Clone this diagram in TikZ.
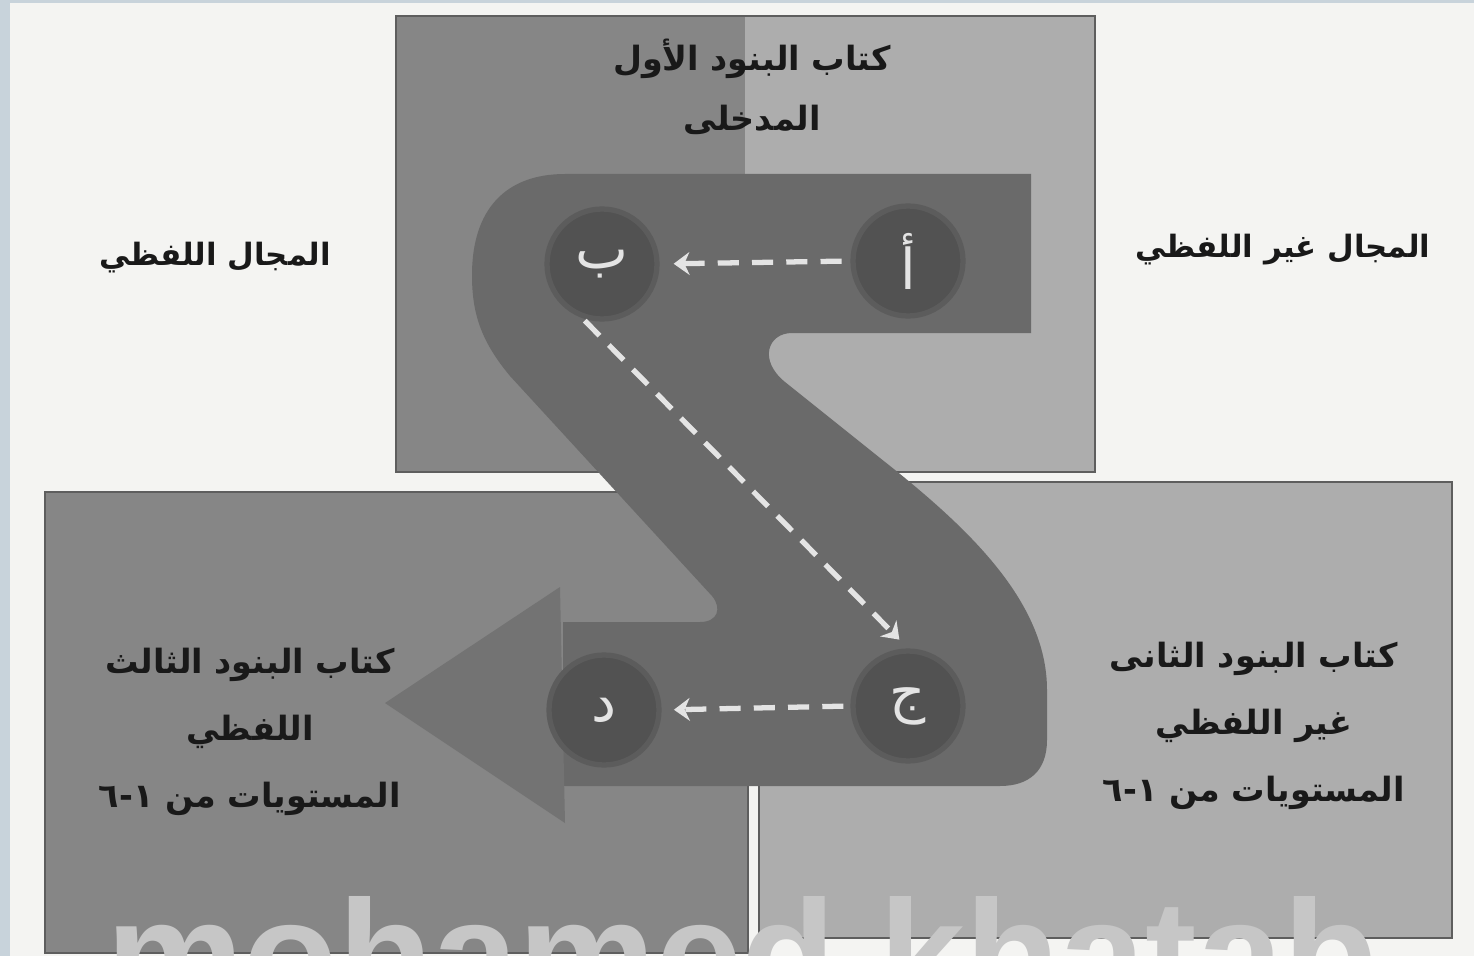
\documentclass[tikz,border=0pt]{standalone}
\usepackage{fontspec}
\setmainfont{DejaVu Sans}
\newfontfamily\arabicfont[Script=Arabic]{DejaVu Sans}
\newfontfamily\wmfont{Liberation Sans}
\TeXXeTstate=1
\usetikzlibrary{arrows.meta}
\definecolor{pagebg}{HTML}{F4F4F2}
\definecolor{stripc}{HTML}{C8D3DB}
\definecolor{boxdark}{HTML}{868686}
\definecolor{boxlight}{HTML}{ADADAD}
\definecolor{bandc}{HTML}{6A6A6A}
\definecolor{headc}{HTML}{737373}
\definecolor{circc}{HTML}{525252}
\definecolor{circedge}{HTML}{5C5C5C}
\definecolor{dashc}{HTML}{E4E4E4}
\definecolor{wmark}{HTML}{C6C6C6}
\definecolor{edgec}{HTML}{5E5E5E}
\tikzset{
  panel/.style={draw=edgec, line width=1.2pt},
  lbl/.style={font=\arabicfont\bfseries\fontsize{19}{34}\selectfont, align=center, text=black!90, inner sep=0pt},
  sidelbl/.style={lbl, font=\arabicfont\bfseries\fontsize{17.5}{30}\selectfont},
  boxlbl/.style={lbl, font=\arabicfont\bfseries\fontsize{19}{38}\selectfont},
  letternode/.style={circle, fill=circc, draw=circedge, line width=3pt, minimum size=2.2cm, inner sep=0pt, text=dashc, font=\arabicfont\fontsize{32}{32}\selectfont},
  flow/.style={draw=dashc, line width=3pt, dash pattern=on 12pt off 7.5pt, -{Stealth[length=9pt,width=13pt]}},
}
\begin{document}
\begin{tikzpicture}[x=0.02cm,y=-0.02cm]
\useasboundingbox (0,0) rectangle (1474,956);
\clip (0,0) rectangle (1474,956);
\fill[pagebg] (0,0) rectangle (1474,956);
\fill[stripc] (0,0) rectangle (10,956);
\fill[stripc] (0,0) rectangle (1474,3);

% top box
\fill[boxdark] (396,16) rectangle (745,472);
\fill[boxlight] (745,16) rectangle (1095,472);
\draw[panel] (396,16) rectangle (1095,472);
% bottom boxes
\fill[boxdark] (45,492) rectangle (748,953);
\draw[panel] (45,492) rectangle (748,953);
\fill[boxlight] (759,482) rectangle (1452,938);
\draw[panel] (759,482) rectangle (1452,938);

% S-shaped band
\fill[bandc] (1031,174) -- (1031,333) -- (792,333)
  .. controls (768,333) and (758,360) .. (785,382)
  -- (880,458)
  .. controls (965,525) and (1047,600) .. (1047,690)
  -- (1047,740)
  .. controls (1047,770) and (1030,786) .. (1000,786)
  -- (563,786) -- (563,622) -- (700,622)
  .. controls (718,622) and (722,608) .. (712,596)
  -- (510,376)
  .. controls (480,340) and (472,312) .. (472,275)
  .. controls (472,210) and (505,174) .. (565,174) -- cycle;
% arrow head
\fill[headc] (560,587) -- (565,823) -- (385,703) -- cycle;

% circles
\node[letternode] (a) at (908,261) {أ};
\node[letternode] (b) at (602,264) {ب};
\node[letternode] (c) at (908,706) {ج};
\node[letternode] (d) at (604,710) {د};

% dashed connectors
\draw[flow, shorten <=5pt, shorten >=8pt] (a.west) -- (b.east);
\draw[flow, shorten <=2pt, shorten >=7pt] (b.250) -- (c.north);
\draw[flow, shorten <=4pt, shorten >=7pt] (c.west) -- (d.east);

% labels
\node[lbl] (tlabel) at (752,87) {\beginR كتاب البنود الأول\endR\\\beginR المدخلى\endR};
\node[sidelbl] (llabel) at (215,258) {\beginR المجال اللفظي\endR};
\node[sidelbl] (rlabel) at (1283,250) {\beginR المجال غير اللفظي\endR};
\node[boxlbl] (bllabel) at (250,732) {\beginR كتاب البنود الثالث\endR\\\beginR اللفظي\endR\\\beginR المستويات من ١\kern0pt-\kern0pt٦\endR};
\node[boxlbl] (brlabel) at (1254,726) {\beginR كتاب البنود الثانى\endR\\\beginR غير اللفظي\endR\\\beginR المستويات من ١\kern0pt-\kern0pt٦\endR};

% watermark
\node[font=\wmfont\bfseries\fontsize{88}{88}\selectfont, text=wmark, inner sep=0pt, anchor=base] (wm) at (742,1008) {mohamed khatab};
\end{tikzpicture}
\end{document}
